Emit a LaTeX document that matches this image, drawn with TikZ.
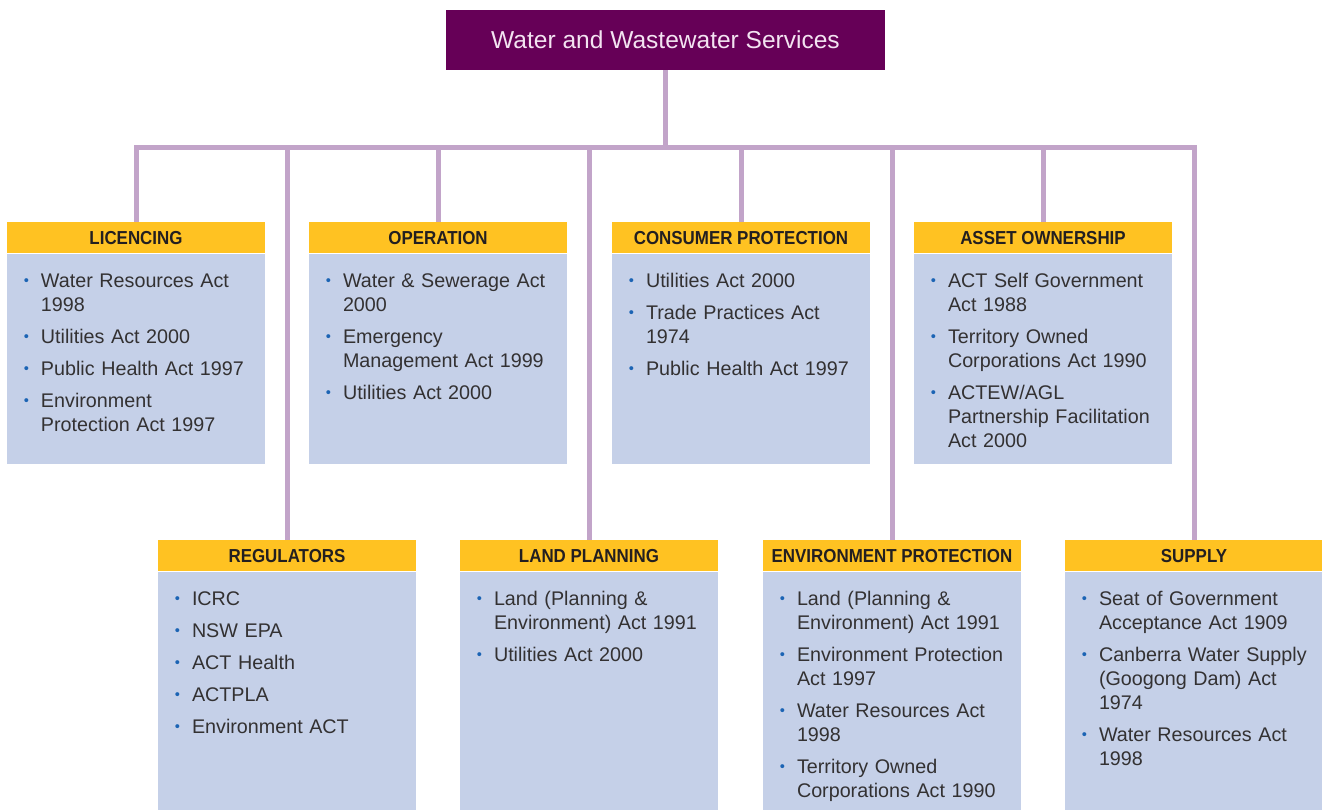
\documentclass[tikz,border=0pt]{standalone}
\usepackage{fontspec}
\setmainfont{Liberation Sans}
\newfontfamily\headfont[FakeStretch=0.9]{Liberation Sans}
\usetikzlibrary{positioning}
\definecolor{topPurple}{HTML}{660057}
\definecolor{titleWhite}{HTML}{F3E3F1}
\definecolor{headGold}{HTML}{FFC222}
\definecolor{headInk}{HTML}{231F20}
\definecolor{bodyBlue}{HTML}{C5D0E8}
\definecolor{linkLilac}{HTML}{C2A4C9}
\definecolor{dotBlue}{HTML}{1C64B4}
\definecolor{inkGrey}{HTML}{333132}
% one bulleted act, lines split by \\
\newcommand\law[1]{\noindent\llap{\raisebox{1.9pt}{\fontsize{11pt}{11pt}\selectfont\textcolor{dotBlue}{\textbullet}}\hspace{9pt}}#1\par\vspace{6pt}}
\begin{document}
\begin{tikzpicture}[x=0.75pt, y=-0.75pt, line join=miter,
  head node/.style={fill=headGold, minimum width=193.5pt, minimum height=23.25pt, inner sep=0pt, anchor=north, text=headInk, font=\headfont\bfseries\fontsize{14.1pt}{15pt}\selectfont},
  acts node/.style={fill=bodyBlue, text width=193.5pt, inner sep=0pt, text height=25.5pt, text=inkGrey, font=\fontsize{14.8pt}{18pt}\selectfont, execute at begin node={\raggedright\leftskip=25.5pt\parindent=0pt}},
  top row/.style={text depth=132pt},
  low row/.style={text depth=153.75pt},
  link/.style={draw=linkLilac, line width=3.75pt}]
\useasboundingbox (0,0) rectangle (1322,810);
\begin{scope}
\node[fill=topPurple, minimum width=329.25pt, minimum height=45pt, text=titleWhite, font=\fontsize{18.4pt}{20pt}\selectfont] (top) at (665.5,40) {\raisebox{-1.5pt}{Water and Wastewater Services}};
\node[head node] (lic) at (136,222) {LICENCING};
\node[head node] (ope) at (438,222) {OPERATION};
\node[head node] (con) at (741,222) {CONSUMER PROTECTION};
\node[head node] (ass) at (1043,222) {ASSET OWNERSHIP};
\node[head node] (reg) at (287,540) {REGULATORS};
\node[head node] (lan) at (589,540) {LAND PLANNING};
\node[head node] (env) at (892,540) {ENVIRONMENT PROTECTION};
\node[head node] (sup) at (1194,540) {SUPPLY};
%\node[head node] () at (,) {};
\end{scope}
\begin{scope}
\node[acts node, top row, below=0pt of lic] (lic-acts) {%
  \law{Water Resources Act\\1998}
  \law{Utilities Act 2000}
  \law{Public Health Act 1997}
  \law{Environment\\Protection Act 1997}};
\node[acts node, top row, below=0pt of ope] (ope-acts) {%
  \law{Water \& Sewerage Act\\2000}
  \law{Emergency\\Management Act 1999}
  \law{Utilities Act 2000}};
\node[acts node, top row, below=0pt of con] (con-acts) {%
  \law{Utilities Act 2000}
  \law{Trade Practices Act\\1974}
  \law{Public Health Act 1997}};
\node[acts node, top row, below=0pt of ass] (ass-acts) {%
  \law{ACT Self Government\\Act 1988}
  \law{Territory Owned\\Corporations Act 1990}
  \law{ACTEW/AGL\\Partnership Facilitation\\Act 2000}};
\node[acts node, low row, below=0pt of reg] (reg-acts) {%
  \law{ICRC}
  \law{NSW EPA}
  \law{ACT Health}
  \law{ACTPLA}
  \law{Environment ACT}};
\node[acts node, low row, below=0pt of lan] (lan-acts) {%
  \law{Land (Planning \&\\Environment) Act 1991}
  \law{Utilities Act 2000}};
\node[acts node, low row, below=0pt of env] (env-acts) {%
  \law{Land (Planning \&\\Environment) Act 1991}
  \law{Environment Protection\\Act 1997}
  \law{Water Resources Act\\1998}
  \law{Territory Owned\\Corporations Act 1990}};
\node[acts node, low row, below=0pt of sup] (sup-acts) {%
  \law{Seat of Government\\Acceptance Act 1909}
  \law{Canberra Water Supply\\(Googong Dam) Act\\1974}
  \law{Water Resources Act\\1998}};
\end{scope}
\begin{scope}
\coordinate (bus) at (665.5,147);
\foreach \cat in {lic,reg,ope,lan,con,env,ass,sup}
  \draw[link] (top.south) -- (bus) -| (\cat.north);
\end{scope}
\end{tikzpicture}
\end{document}
